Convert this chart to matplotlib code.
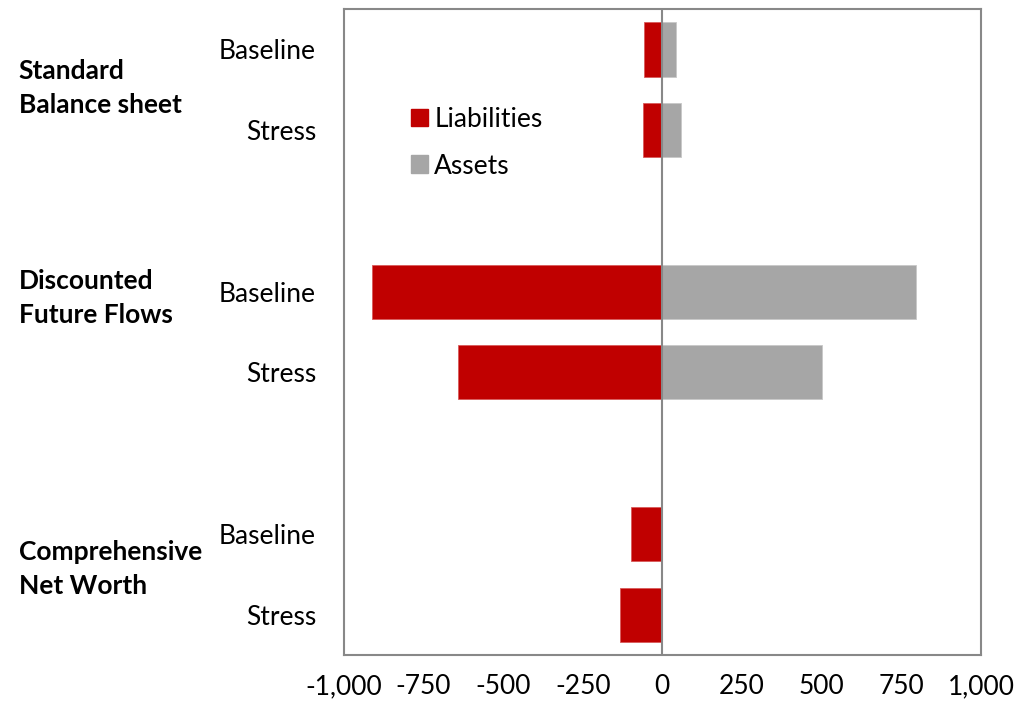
import matplotlib
matplotlib.use("Agg")
import matplotlib.pyplot as plt
from matplotlib.patches import Patch
import numpy as np

plt.rcParams['font.family'] = ['Lato', 'DejaVu Sans']

# data: slot order top to bottom, empty gap rows between groups
groups = ["Standard\nBalance sheet", "Discounted\nFuture Flows", "Comprehensive\nNet Worth"]
scenarios = ["Baseline", "Stress"]
liabilities = [-57, -60, -910, -641, -97, -134]
assets = [44, 59, 796, 500, 0, 0]
slots = [0, 1, 3, 4, 6, 7]
group_label_y = [0.48, 3.08, 6.43]

red = "#C00000"
grey = "#A6A6A6"
edge = "#888888"

fig = plt.figure(figsize=(10.17, 7.01), dpi=100)
ax = fig.add_axes([0.338, 0.0656, 0.6266, 0.9214])

ax.barh(slots, liabilities, height=0.67, color=red, edgecolor="#D85A5A", linewidth=0.6)
ax.barh(slots, assets, height=0.67, color=grey, edgecolor="#C8C8C8", linewidth=0.6)
ax.axvline(0, color=edge, lw=1.5)

ax.set_xlim(-1000, 1000)
ax.set_ylim(7.5, -0.5)
ticks = np.arange(-1000, 1001, 250)
ax.set_xticks(ticks)
ax.set_xticklabels([f"{t:,}" for t in ticks], fontsize=19)
ax.set_yticks(slots)
ax.set_yticklabels(scenarios * 3, fontsize=19)
ax.tick_params(axis="x", length=0, pad=14)
ax.tick_params(axis="y", length=0, pad=20)
for s in ax.spines.values():
    s.set_color(edge)
    s.set_linewidth(1.5)

for lab, y in zip(groups, group_label_y):
    ax.text(-0.51, y, lab, transform=ax.get_yaxis_transform(), ha="left", va="center",
            fontsize=19, fontweight="bold", linespacing=1.5)

handles = [Patch(color=red, label="Liabilities"), Patch(color=grey, label="Assets")]
ax.legend(handles=handles, loc="upper left", bbox_to_anchor=(0.105, 0.849), frameon=False,
          fontsize=19, handlelength=0.65, handleheight=0.65, handletextpad=0.25,
          labelspacing=0.83, borderpad=0, borderaxespad=0)

fig.savefig("out.png", dpi=100)
